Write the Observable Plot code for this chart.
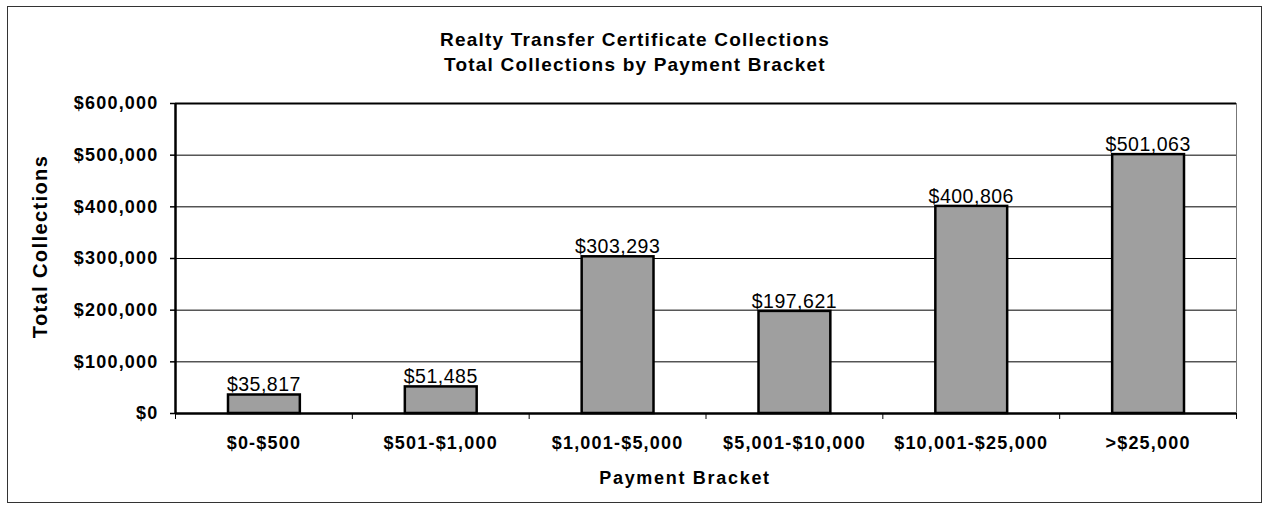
<!DOCTYPE html>
<html>
<head>
<meta charset="utf-8">
<script src="https://cdn.jsdelivr.net/npm/d3@7"></script>
<script src="https://cdn.jsdelivr.net/npm/@observablehq/plot@0.6"></script>
<style>
  html, body { margin: 0; padding: 0; background: #fff; }
  #wrap { position: relative; width: 1265px; height: 506px; font-family: "Liberation Sans", Arial, sans-serif; }
  #border { position: absolute; left: 7px; top: 6px; width: 1255px; height: 497px; border: 1.5px solid #333; box-sizing: border-box; pointer-events: none; }
  #title { position: absolute; left: 7px; width: 1256px; top: 27px; text-align: center; font-weight: bold; font-size: 19px; letter-spacing: 1.2px; line-height: 25px; color: #000; }
  #chart { position: absolute; left: 0; top: 0; }
  g[aria-label="y-axis tick label"] text { letter-spacing: 1.2px; }
  g[aria-label="x-axis tick label"] text { letter-spacing: 1.2px; }
</style>
</head>
<body>
<div id="wrap">
  <div id="chart"></div>
  <div id="border"></div>
  <div id="title">Realty Transfer Certificate Collections<br>Total Collections by Payment Bracket</div>
</div>
<script>
const categories = ["$0-$500", "$501-$1,000", "$1,001-$5,000", "$5,001-$10,000", "$10,001-$25,000", ">$25,000"];
const values = [35817, 51485, 303293, 197621, 400806, 501063];
const yTicks = [0, 100000, 200000, 300000, 400000, 500000, 600000];
const xLabel = "Payment Bracket";
const yLabel = "Total Collections";

const data = categories.map((c, i) => ({ cat: c, i, value: values[i] }));
const money = d => "$" + d3.format(",")(d);

const chart = Plot.plot({
  width: 1265,
  height: 506,
  marginLeft: 175,
  marginRight: 29,
  marginTop: 103,
  marginBottom: 93,
  style: { fontFamily: "'Liberation Sans', Arial, sans-serif", color: "#000", background: "transparent" },
  x: { domain: [0, categories.length], axis: null },
  y: { domain: [0, 600000], axis: null },
  marks: [
    Plot.ruleY(yTicks.slice(1, -1), { stroke: "#000", strokeWidth: 1 }),
    Plot.ruleX([categories.length], { stroke: "#777", strokeWidth: 1 }),
    Plot.ruleY([600000], { stroke: "#000", strokeWidth: 2 }),
    Plot.rect(data, {
      x1: d => d.i, x2: d => d.i + 1, y1: 0, y2: "value",
      insetLeft: 53, insetRight: 52,
      fill: "#9f9f9f", stroke: "#000", strokeWidth: 2.5
    }),
    Plot.text(data, {
      x: d => d.i + 0.5, y: "value", text: d => money(d.value),
      dy: -10, fontSize: 19.5, fill: "#000"
    }),
    Plot.axisY({
      ticks: yTicks, tickFormat: money, tickSize: 5, tickPadding: 12,
      fontSize: 18, fontWeight: "bold", label: null, strokeWidth: 1.5
    }),
    Plot.axisX({
      ticks: d3.range(categories.length + 1), tickFormat: () => "", tickSize: 6, label: null
    }),
    Plot.axisX({
      ticks: categories.map((c, i) => i + 0.5), tickFormat: (d) => categories[Math.floor(d)],
      tickSize: 0, tickPadding: 23, fontSize: 18, fontWeight: "bold", label: null
    }),
    Plot.ruleX([0], { stroke: "#000", strokeWidth: 2.5 }),
    Plot.ruleY([0], { stroke: "#000", strokeWidth: 2.5 }),
    Plot.text([yLabel], {
      frameAnchor: "left", text: d => d, rotate: -90, dx: -135, dy: -12,
      textAnchor: "middle", fontSize: 20, fontWeight: "bold", fill: "#000"
    }),
    Plot.text([xLabel], {
      frameAnchor: "bottom", text: d => d, dx: -21, dy: 70,
      textAnchor: "middle", fontSize: 18, fontWeight: "bold", fill: "#000"
    })
  ]
});
// letter-spacing for the three custom text marks, in mark order
const textGroups = chart.querySelectorAll('g[aria-label="text"]');
const spacings = ["0.5px", "1.4px", "1.7px"];
textGroups.forEach((g, k) => { if (spacings[k]) g.style.letterSpacing = spacings[k]; });
document.getElementById("chart").appendChild(chart);
</script>
</body>
</html>
